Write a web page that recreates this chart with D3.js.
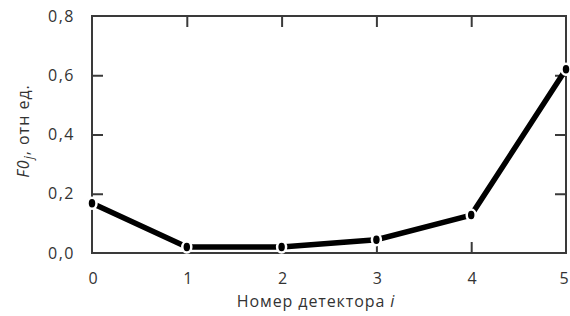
<!DOCTYPE html>
<html><head><meta charset="utf-8">
<script src="https://cdn.jsdelivr.net/npm/d3@7"></script>
<style>body{margin:0;background:#fff}svg{display:block}</style>
</head><body>
<svg id="c" width="570" height="316"></svg>
<script>
const detectors = [0, 1, 2, 3, 4, 5];
const f0Values = [0.168, 0.02, 0.02, 0.045, 0.128, 0.62];
const yTicks = [0, 0.2, 0.4, 0.6, 0.8];
const xTicks = [0, 1, 2, 3, 4, 5];

const svg = d3.select("#c");
const m = {l: 92, r: 566, t: 16, b: 253};
const x = d3.scaleLinear().domain([0, 5]).range([m.l, m.r]);
const y = d3.scaleLinear().domain([0, 0.8]).range([m.b, m.t]);
const font = "'Open Sans', 'DejaVu Sans', sans-serif";
const fmt = d => d3.format(".1f")(d).replace(".", ",");

const tickLen = 11;
const axes = [
  d3.axisLeft(y).tickValues([0.2,0.4,0.6]).tickSize(-tickLen).tickFormat(""),
  d3.axisRight(y).tickValues([0.2,0.4,0.6]).tickSize(-tickLen).tickFormat(""),
  d3.axisBottom(x).tickValues([1,2,3,4]).tickSize(-tickLen).tickFormat(""),
  d3.axisTop(x).tickValues([1,2,3,4]).tickSize(-tickLen).tickFormat("")
];
const tr = [`translate(${m.l},0)`, `translate(${m.r},0)`, `translate(0,${m.b})`, `translate(0,${m.t})`];
axes.forEach((a, i) => {
  const g = svg.append("g").attr("transform", tr[i]).call(a);
  g.select(".domain").remove();
  g.selectAll("line").attr("stroke", "#3a3a3a").attr("stroke-width", 2);
});

svg.append("rect").attr("x", m.l).attr("y", m.t).attr("width", m.r - m.l).attr("height", m.b - m.t)
  .attr("fill", "none").attr("stroke", "#3a3a3a").attr("stroke-width", 2);

svg.append("g").selectAll("text").data(yTicks).join("text")
  .attr("x", 75).attr("y", d => y(d)).attr("dy", "0.35em").attr("text-anchor", "end")
  .attr("font-family", font).attr("font-size", 16).attr("letter-spacing", 1.5).attr("fill", "#333").text(fmt);
svg.append("g").selectAll("text").data(xTicks).join("text")
  .attr("x", d => Math.min(x(d) + 1, 564)).attr("y", 278).attr("dy", "0.35em").attr("text-anchor", "middle")
  .attr("font-family", font).attr("font-size", 16).attr("fill", "#333").text(d => d);

const xt = svg.append("text").attr("x", 316).attr("y", 301).attr("dy", "0.35em").attr("text-anchor", "middle")
  .attr("font-family", font).attr("font-size", 16).attr("letter-spacing", 0.9).attr("fill", "#333");
xt.append("tspan").text("Номер детектора ");
xt.append("tspan").attr("font-style", "italic").text("i");

const yt = svg.append("text").attr("transform", "translate(23,131) rotate(-90)").attr("text-anchor", "middle")
  .attr("dy", "0.35em").attr("font-family", font).attr("font-size", 16).attr("letter-spacing", 1).attr("fill", "#333");
yt.append("tspan").attr("font-style", "italic").text("F0");
yt.append("tspan").attr("font-style", "italic").attr("font-size", 12).attr("dy", "4").text("j");
yt.append("tspan").attr("dy", "-4").text(", отн ед.");

const pts = detectors.map((d, i) => [d, f0Values[i]]);
svg.append("path").datum(pts)
  .attr("d", d3.line().x(d => x(d[0])).y(d => y(d[1])))
  .attr("fill", "none").attr("stroke", "#000").attr("stroke-width", 5.5);
svg.append("g").selectAll("ellipse").data(pts).join("ellipse")
  .attr("cx", d => x(d[0])).attr("cy", d => y(d[1])).attr("rx", 4.5).attr("ry", 5.5)
  .attr("fill", "#000").attr("stroke", "#fff").attr("stroke-width", 2.5);
</script>
</body></html>
